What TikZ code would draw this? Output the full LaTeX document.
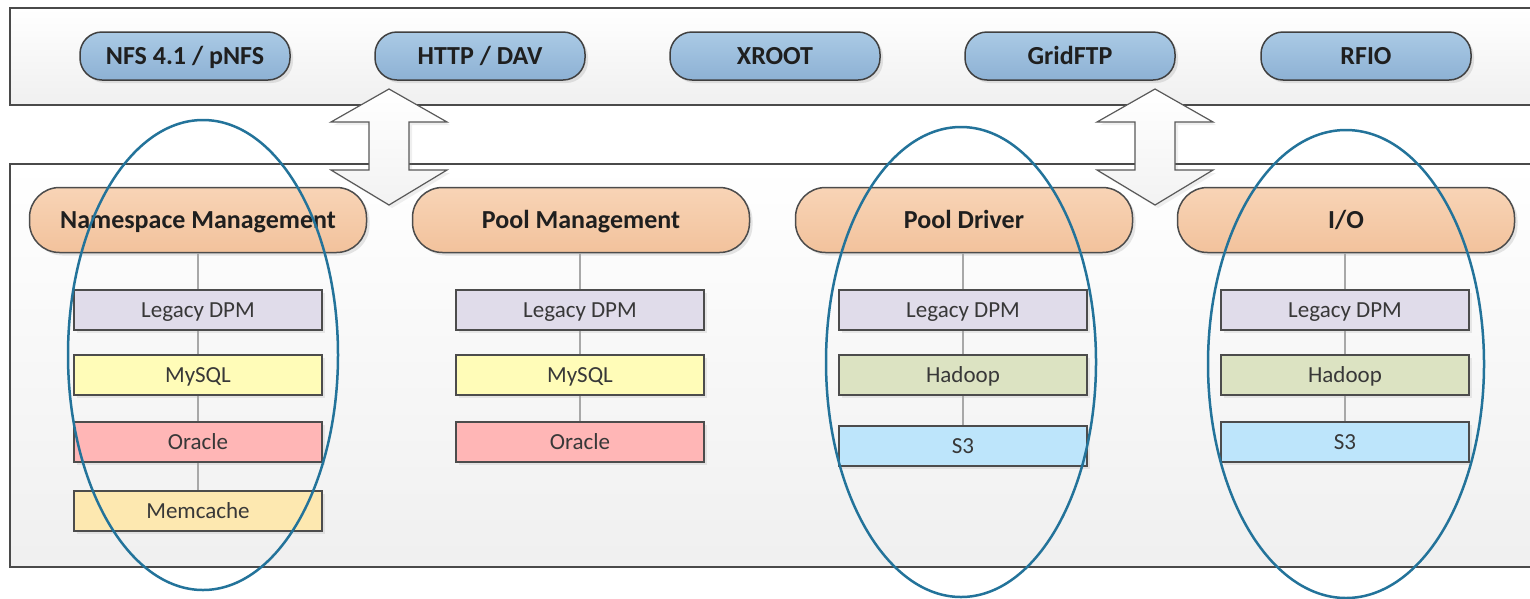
\documentclass[tikz,border=0pt]{standalone}
\usepackage{fontspec}
\setmainfont{Carlito}
\usetikzlibrary{shadows}
\definecolor{panelborder}{HTML}{4A4A4A}
\definecolor{protoTop}{HTML}{AACAE5}
\definecolor{protoBot}{HTML}{8DB1D4}
\definecolor{layerTop}{HTML}{F8D4B6}
\definecolor{layerBot}{HTML}{F2C29C}
\definecolor{legacyc}{HTML}{E0DCEA}
\definecolor{mysqlc}{HTML}{FFFCB8}
\definecolor{oraclec}{HTML}{FFB6B6}
\definecolor{memc}{HTML}{FDE8B0}
\definecolor{hadoopc}{HTML}{DCE3C2}
\definecolor{s3c}{HTML}{BDE5FB}
\definecolor{ellc}{HTML}{23739A}
\definecolor{connc}{HTML}{A8A8A8}
\begin{document}
\begin{tikzpicture}[x=1pt,y=-1pt,
  panel/.style={draw=panelborder,line width=2pt,top color=white,bottom color=black!6,
    minimum width=1540,inner sep=0pt,anchor=north west},
  proto/.style={draw=black!75,line width=1.5pt,top color=protoTop,bottom color=protoBot,
    rounded corners=22pt,minimum width=210,minimum height=48,inner sep=0pt,
    font=\fontsize{26}{30}\selectfont\bfseries,text=black!88,
    text height=20pt,text depth=3pt,
    drop shadow={shadow xshift=3pt,shadow yshift=-3pt,opacity=0.2}},
  layer/.style={draw=black!70,line width=1.5pt,top color=layerTop,bottom color=layerBot,
    rounded corners=30pt,minimum width=337,minimum height=65,inner sep=0pt,
    font=\fontsize{26}{30}\selectfont\bfseries,text=black!88,
    text height=20pt,text depth=3pt,
    drop shadow={shadow xshift=3pt,shadow yshift=-3pt,opacity=0.2}},
  impl/.style={draw=black!70,line width=2pt,minimum width=248,minimum height=40,inner sep=0pt,
    font=\fontsize{23}{27}\selectfont,text=black!78,
    text height=18pt,text depth=3pt,
    drop shadow={shadow xshift=3pt,shadow yshift=-3pt,opacity=0.15}},
  conn/.style={draw=connc,line width=1.5pt},
  blockarrow/.style={draw=black!65,line width=1.2pt,top color=white,bottom color=black!5,
    drop shadow={shadow xshift=3pt,shadow yshift=-3pt,opacity=0.12}},
  group/.style={draw=ellc,line width=2.5pt}
]
\clip (0,0) rectangle (1530,598);
\fill[white] (0,0) rectangle (1530,598);

% panels
\node[panel,minimum height=97] (toppanel) at (9,7) {};
\node[panel,minimum height=403] (botpanel) at (9,163) {};

% protocols
\node[proto] (nfs) at (185,56) {NFS 4.1 / pNFS};
\node[proto] (http) at (480,56) {HTTP / DAV};
\node[proto] (xroot) at (775,56) {XROOT};
\node[proto] (gridftp) at (1070,56) {GridFTP};
\node[proto] (rfio) at (1366,56) {RFIO};

% layers
\node[layer] (ns) at (198,220) {Namespace Management};
\node[layer] (pm) at (581,220) {Pool Management};
\node[layer] (pd) at (964,220) {Pool Driver};
\node[layer] (io) at (1346,220) {I/O};

% namespace column
\node[impl,fill=legacyc] (ns1) at (198,310) {Legacy DPM};
\node[impl,fill=mysqlc] (ns2) at (198,375) {MySQL};
\node[impl,fill=oraclec] (ns3) at (198,442) {Oracle};
\node[impl,fill=memc] (ns4) at (198,511) {Memcache};
% pool management column
\node[impl,fill=legacyc] (pm1) at (580,310) {Legacy DPM};
\node[impl,fill=mysqlc] (pm2) at (580,375) {MySQL};
\node[impl,fill=oraclec] (pm3) at (580,442) {Oracle};
% pool driver column
\node[impl,fill=legacyc] (pd1) at (963,310) {Legacy DPM};
\node[impl,fill=hadoopc] (pd2) at (963,375) {Hadoop};
\node[impl,fill=s3c] (pd3) at (963,446) {S3};
% io column
\node[impl,fill=legacyc] (io1) at (1345,310) {Legacy DPM};
\node[impl,fill=hadoopc] (io2) at (1345,375) {Hadoop};
\node[impl,fill=s3c] (io3) at (1345,442) {S3};

% connectors
\draw[conn] (ns) -- (ns1);
\draw[conn] (ns1) -- (ns2);
\draw[conn] (ns2) -- (ns3);
\draw[conn] (ns3) -- (ns4);
\draw[conn] (pm.south -| pm1.north) -- (pm1);
\draw[conn] (pm1) -- (pm2);
\draw[conn] (pm2) -- (pm3);
\draw[conn] (pd.south -| pd1.north) -- (pd1);
\draw[conn] (pd1) -- (pd2);
\draw[conn] (pd2) -- (pd3);
\draw[conn] (io.south -| io1.north) -- (io1);
\draw[conn] (io1) -- (io2);
\draw[conn] (io2) -- (io3);

% block arrows
\draw[blockarrow] (389,89) -- ++(58,33) -- ++(-38,0) -- ++(0,48) -- ++(38,0)
  -- ++(-58,35) -- ++(-58,-35) -- ++(38,0) -- ++(0,-48) -- ++(-38,0) -- cycle;
\draw[blockarrow] (1155,89) -- ++(58,33) -- ++(-38,0) -- ++(0,48) -- ++(38,0)
  -- ++(-58,35) -- ++(-58,-35) -- ++(38,0) -- ++(0,-48) -- ++(-38,0) -- cycle;

% grouping ellipses
\coordinate (e1) at (203,355);
\coordinate (e2) at (961,362);
\coordinate (e3) at (1346,364);
\draw[group] (e1) ellipse [x radius=135pt,y radius=235pt];
\draw[group] (e2) ellipse [x radius=135pt,y radius=235pt];
\draw[group] (e3) ellipse [x radius=138pt,y radius=234pt];
\end{tikzpicture}
\end{document}
